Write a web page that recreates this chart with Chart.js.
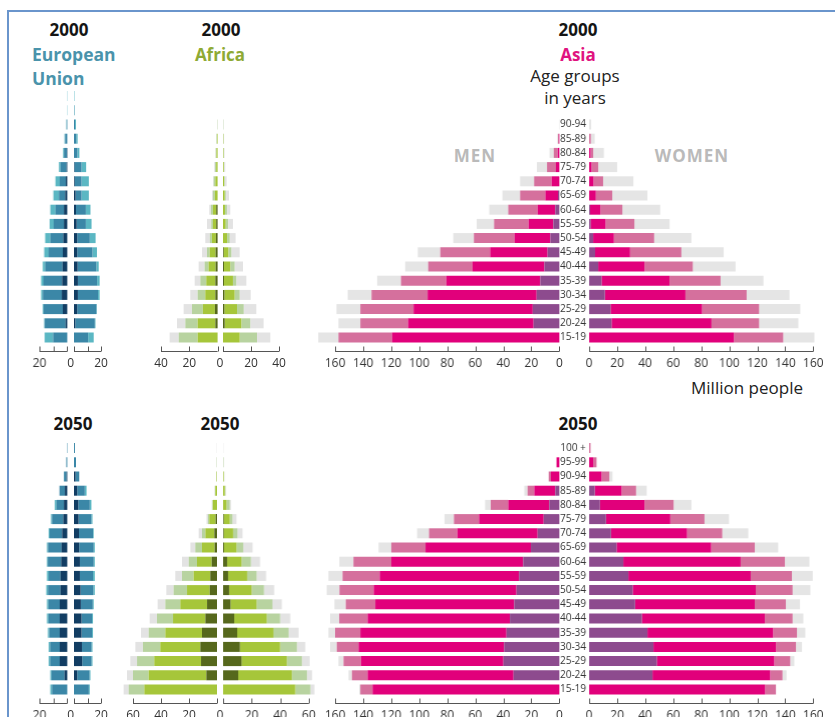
<!DOCTYPE html>
<html><head><meta charset="utf-8">
<script src="https://cdn.jsdelivr.net/npm/chart.js@4.4.1/dist/chart.umd.min.js"></script>
<style>
html,body{margin:0;padding:0;background:#fff;width:835px;height:717px;overflow:hidden;position:relative;font-family:'Open Sans',sans-serif;}
.frame{position:absolute;left:7px;top:10px;width:900px;height:800px;border-top:2px solid #6a95cc;border-left:2px solid #6a95cc;}
.t{position:absolute;white-space:nowrap;line-height:1;transform:translate(-50%,-50%);}
.yr{font-weight:700;font-size:17px;color:#151515;}
.reg{font-weight:700;font-size:17px;}
.lbl{font-size:17px;color:#222;}
.sex{font-weight:700;font-size:17px;color:#bababa;letter-spacing:1px;}
.wrap{position:absolute;}
</style></head><body>
<div class="frame"></div>
<div class="t yr" style="left:69px;top:29px">2000</div>
<div class="reg" style="position:absolute;left:32px;top:42px;line-height:24px;font-size:17.5px;color:#4a93ab">European<br>Union</div>
<div class="t yr" style="left:221px;top:29px">2000</div>
<div class="t reg" style="left:220px;top:54px;color:#8eaa35">Africa</div>
<div class="t yr" style="left:578px;top:29px">2000</div>
<div class="t reg" style="left:578px;top:54px;color:#e0137f">Asia</div>
<div class="t lbl" style="left:575px;top:75px">Age groups</div>
<div class="t lbl" style="left:575px;top:97px">in years</div>
<div class="t sex" style="left:475px;top:155px">MEN</div>
<div class="t sex" style="left:692px;top:155px">WOMEN</div>
<div class="t lbl" style="left:747px;top:387px">Million people</div>
<div class="t yr" style="left:73px;top:423px">2050</div>
<div class="t yr" style="left:220px;top:423px">2050</div>
<div class="t yr" style="left:578px;top:423px">2050</div>
<script>
// ---------- categories ----------
const ageGroups = ['15-19','20-24','25-29','30-34','35-39','40-44','45-49','50-54','55-59','60-64','65-69','70-74','75-79','80-84','85-89','90-94','95-99','100 +'];
const levelNames = ['Tertiary','Secondary','Primary','No education'];

// ---------- European Union (million people) ----------
const eu2000MenTertiary   = [0,1.2,3.2,3.9,3.7,3.4,3.2,2.9,2.4,2.4,1.5,1,0.5,0.3,0,0,0,0];
const eu2000MenSecondary  = [10.2,15.1,13.9,13.7,13.4,12.5,10.2,9.3,7.4,6.1,4.5,4.4,4.4,2.1,1.5,0.5,0,0];
const eu2000MenPrimary    = [6.1,0.3,0.5,1.2,1.7,1.7,3.2,3.7,2.9,3.7,4,3.1,1.1,0.6,0.5,0.2,0.2,0.2];
const eu2000WomenTertiary = [0,1,2.4,2.9,2.9,2.7,2.4,2.4,2,1.5,1.2,0.5,0.3,0,0,0,0,0];
const eu2000WomenSecondary= [10.5,14.4,14.2,14.9,14.2,13.9,11.3,9.3,6.8,7.3,4.4,5.1,5.3,2.5,1.7,0.8,0.2,0];
const eu2000WomenPrimary  = [4.1,0.5,0.4,1.2,1.9,1.7,3.3,4.3,4.2,3.4,5.4,5.4,3.4,1.5,1,0.7,0.3,0.3];

const eu2050MenTertiary   = [0,2,5.4,5.4,5.4,5.4,5.4,4.9,4.9,4.4,4.1,3.7,2.9,2.4,1.7,0.5,0,0];
const eu2050MenSecondary  = [11,9.4,7,7,7.6,8.2,8.2,9.1,8.5,9.7,9.8,9,8.1,5.4,3.9,1.9,0.7,0.3];
const eu2050MenPrimary    = [1.2,0.8,1,1,0.9,1,1,1.1,1.2,0.5,0.7,0.7,0.7,1.2,0,0,0,0];
const eu2050WomenTertiary = [0,2.4,6.1,5.9,5.6,5.6,5.1,4.9,4.4,4.4,3.9,3.7,3.4,3.2,2.4,1.2,0,0];
const eu2050WomenSecondary= [11,9.1,6.9,7.1,7.8,7.8,8.8,9.5,9.7,10.2,10.7,10.4,9.5,8.5,5.6,2.7,1.5,0.7];
const eu2050WomenPrimary  = [0.7,0.7,0.7,0.7,0.7,0.7,0.7,1,1.3,0.8,0.8,0.5,0.8,1.2,1.3,0,0,0];

// ---------- Africa ----------
const af2000MenTertiary   = [0,1.6,1.9,1.6,1.6,1.4,1.4,1.2,1,1,0,0,0,0,0,0,0,0];
const af2000MenSecondary  = [14.1,12.5,8.5,7.1,6.4,5,4.2,2.8,2.3,2.3,1.9,1.6,1,0.8,0.4,0,0,0];
const af2000MenPrimary    = [13.4,8.7,7.7,5.4,4.2,2.8,1.9,1.5,1.2,1.4,1.4,1.2,0.8,0.5,0.4,0.2,0,0];
const af2000MenNone       = [6.4,5.9,5.9,5.2,4,4.2,3.5,3.2,3,1.2,0.7,0.4,0.6,0.3,0.2,0.2,0,0];
const af2000WomenTertiary = [0,1.2,1,1,0.7,0.7,0.5,0,0,0,0,0,0,0,0,0,0,0];
const af2000WomenSecondary= [11.9,11.9,9,7.3,6.4,4.5,3.3,2.9,1.9,1.4,1.2,0.8,0.5,0.3,0.2,0,0,0];
const af2000WomenPrimary  = [12.4,6.4,4.8,3.6,2.4,3.1,2.2,1.9,1.7,1.4,0.8,0.4,0.3,0.3,0.2,0.2,0,0];
const af2000WomenNone     = [9.5,9.5,9,7.9,7.2,6,5.9,4.2,3.5,2.4,2.3,1.4,0.8,0.5,0.4,0.2,0,0];

const af2050MenTertiary   = [0,7.6,11.4,11.9,10.7,8.3,7.1,5.2,4.8,3.8,1.7,1.9,1,0,0,0,0,0];
const af2050MenSecondary  = [51.9,41.2,33.4,28.6,26.2,23.1,19.1,16.2,11.9,10.5,9,6.4,4.5,3,1.2,0.3,0,0];
const af2050MenPrimary    = [11.2,11.2,12.3,12.4,11.9,11.5,10.7,9.6,8.3,5.9,4.8,2.4,1,0.3,0.3,0.2,0.2,0];
const af2050MenNone       = [3.6,4.3,4.8,5.4,5.5,5.2,5.5,5.2,4.8,4.8,3.5,2.4,1,0.5,0.3,0.1,0.2,0.2];
const af2050WomenTertiary = [0,10.6,12.9,11.8,9.9,7.8,5.2,4.2,3.5,2.8,0.7,0.5,0.5,0,0,0,0,0];
const af2050WomenSecondary= [50.6,37.6,31.8,28.2,25.4,22.8,18.3,15.8,13.4,10.1,8.7,6.5,4.2,2.4,1.2,0.4,0,0];
const af2050WomenPrimary  = [10.6,10.6,10.6,11.8,10.6,9.4,11.1,8.7,6.6,6.6,4.7,3.1,1.9,2.3,0.4,0.3,0.3,0];
const af2050WomenNone     = [2.8,3.6,5.4,5.8,7,7.1,6.6,7.1,6.6,6.4,6.6,3.5,2.8,0.8,0.4,0.2,0.2,0.2];

// ---------- Asia ----------
const as2000MenTertiary   = [0,18.4,19,16.2,13.6,10.7,8.4,6.4,4.3,2.9,1,0,0,0,0,0,0,0];
const as2000MenSecondary  = [119.4,89.6,85,77.8,67.1,51.3,41,25.6,17.7,12.6,9,5.5,2.4,1.2,0.3,0,0,0];
const as2000MenPrimary    = [38.2,34,38,40,32.3,31.6,35.6,29,24.6,21,18,12.5,6.4,2.8,0.7,0,0,0];
const as2000MenNone       = [14.4,15.6,17,17,17,16.4,16,14.7,12.4,13.5,12.6,10,7.2,3,0.5,0.3,0,0];
const as2000WomenTertiary = [0,16,15.3,11.2,8.9,6.5,4.3,2.9,1,0.7,0,0,0,0,0,0,0,0];
const as2000WomenSecondary= [103.3,71.3,65.3,57.5,48.5,33,24.9,14.8,10.7,7.3,4.8,3.1,1.7,1,0,0,0,0];
const as2000WomenPrimary  = [35.2,34,40.7,43.7,36.4,34.5,36.6,28.7,20.6,15.7,11.7,6.9,4.8,1.9,1.2,0,0,0];
const as2000WomenNone     = [22.3,28,29.4,30.6,30.6,30.5,30.2,26.6,25.1,27,25.1,21.6,13.5,7.6,2.8,1.4,0,0];

const as2050MenTertiary   = [0,32.7,39.9,39.4,37.7,35.3,32.2,30.6,28.7,25.8,20.3,15.5,11.2,7.2,2.9,0,0,0];
const as2050MenSecondary  = [133.3,104.1,101.7,103.9,104.3,101.5,99.1,101.9,99.5,94.1,75.2,57.3,46.1,29.3,15,6,2,0];
const as2050MenPrimary    = [8.7,11.2,12.4,15.5,18,20.3,21.1,24.4,26.5,27,24.4,20.2,17.9,12.5,4.8,1.6,0,0];
const as2050MenNone       = [0.8,2.4,3.6,4.8,4.8,6.5,8.1,9.1,10.1,10.1,9.1,8.5,6.8,4,2.3,0,0,0];
const as2050WomenTertiary = [0,45.2,48.3,45.9,41.6,37.6,32.8,31.1,28,24.4,19.6,15.6,12,7.7,4,0,0,0];
const as2050WomenSecondary= [125.6,84,83.8,87.4,89.7,87.8,85.4,87.8,87.3,83.7,67.5,54.3,45.9,31.8,19.2,8.9,2.9,0];
const as2050WomenPrimary  = [7.7,8.8,11.4,14.3,17,19.8,22.2,26.3,29.4,31.6,31.1,25.1,24.4,20.8,10.3,5.5,2.4,1];
const as2050WomenNone     = [0,2.9,2.9,4.3,6,7.7,10.1,12.7,14.9,17.5,16.7,18.6,17.5,12.7,7.6,2.3,0,0];

// ---------- tick labels ----------
const euTickLabels = [20];
const af2000TickLabels = [20, 40];
const af2050TickLabels = [20, 40, 60];
const asiaTickLabels = [0, 20, 40, 60, 80, 100, 120, 140, 160];

// ---------- styling ----------
const euColors = ['#123d63', '#3b87a7', '#5bb7c3'];
const afColors = ['#56681c', '#a6c63a', '#b8d3a0', '#e3e3e3'];
const asColors = ['#8d4b8e', '#e1007b', '#d5709d', '#e5e5e5'];
const ROW = 14.2, TICK_PAD = 12, AXIS_OFF = 6, TICK_FONT = 12;
const TOP_ROW_Y = 337, BOTTOM_ROW_Y = 689;

const axisDraw = {
  id: 'axisDraw',
  afterDraw(chart, args, o) {
    const {ctx, chartArea} = chart; const sx = chart.scales.x, sy = chart.scales.y;
    const yA = Math.round(chartArea.bottom + AXIS_OFF) + 0.5;
    ctx.save();
    ctx.strokeStyle = '#555'; ctx.lineWidth = 1;
    ctx.beginPath();
    ctx.moveTo(sx.getPixelForValue(0), yA); ctx.lineTo(sx.getPixelForValue(sx.max), yA);
    sx.ticks.forEach(t => { const px = Math.round(sx.getPixelForValue(t.value)) + 0.5; ctx.moveTo(px, yA); ctx.lineTo(px, yA - 5); });
    ctx.stroke();
    const x0 = sx.getPixelForValue(0);
    if (o.zeroDx != null) {
      ctx.font = TICK_FONT + 'px "Open Sans"'; ctx.fillStyle = '#333'; ctx.textAlign = 'center'; ctx.textBaseline = 'middle';
      ctx.fillText('0', x0 + o.zeroDx, chartArea.bottom + TICK_PAD + TICK_FONT * 0.6);
    }
    if (o.ageCount) {
      ctx.font = '10px "Open Sans"'; ctx.fillStyle = '#333'; ctx.textAlign = 'center'; ctx.textBaseline = 'middle';
      for (let i = 0; i < o.ageCount; i++) ctx.fillText(chart.data.labels[i], x0 + o.ageDx, sy.getPixelForValue(i));
    }
    ctx.restore();
  }
};
Chart.register(axisDraw);

function half(c) {
  const isMen = c.side === 'men';
  const areaW = c.max * c.ppu, areaH = ageGroups.length * ROW;
  const pad = {left: isMen ? 30 : (c.ageCount ? 40 : 14), right: isMen ? 12 : 30, top: 4, bottom: 4};
  const W = Math.round(areaW + pad.left + pad.right), H = Math.round(areaH + pad.top + pad.bottom + TICK_PAD + TICK_FONT * 1.2);
  const wrap = document.createElement('div'); wrap.className = 'wrap'; document.body.appendChild(wrap);
  const cv = document.createElement('canvas'); cv.width = W; cv.height = H; cv.style.width = W + 'px'; cv.style.height = H + 'px';
  wrap.appendChild(cv);
  const chart = new Chart(cv, {
    type: 'bar',
    data: {
      labels: ageGroups,
      datasets: c.series.map((arr, i) => ({
        label: levelNames[i], data: arr, backgroundColor: c.colors[i], borderWidth: 0, inflateAmount: 0,
        barThickness: 10, clip: false, stack: 's'
      }))
    },
    options: {
      indexAxis: 'y', responsive: false, maintainAspectRatio: false, animation: false, events: [],
      layout: {padding: pad},
      plugins: {legend: {display: false}, tooltip: {enabled: false},
        axisDraw: {zeroDx: c.zeroDx, ageCount: c.ageCount || 0, ageDx: -16}},
      scales: {
        x: {type: 'linear', min: 0, max: c.max, reverse: isMen, stacked: true,
            grid: {display: false, drawTicks: false}, border: {display: false},
            ticks: {stepSize: c.step, autoSkip: false, maxRotation: 0, minRotation: 0, padding: TICK_PAD,
                    color: '#333', font: {family: '"Open Sans"', size: TICK_FONT},
                    callback: v => c.tickLabels.includes(v) ? String(v) : ''}},
        y: {type: 'category', reverse: true, stacked: true, display: false}
      }
    }
  });
  const ca = chart.chartArea;
  const dw = areaW - (ca.right - ca.left), dh = areaH - (ca.bottom - ca.top);
  if (Math.abs(dw) > 0.2 || Math.abs(dh) > 0.2) chart.resize(chart.width + dw, chart.height + dh);
  const x0 = chart.scales.x.getPixelForValue(0);
  const y0 = chart.scales.y.getPixelForValue(0);
  wrap.style.left = (c.zeroX - x0) + 'px';
  wrap.style.top = (c.rowY - y0) + 'px';
  return chart;
}

// EU
half({side:'men', max:20, step:10, ppu:1.37, tickLabels:euTickLabels, colors:euColors, zeroX:66.7, rowY:TOP_ROW_Y,
  series:[eu2000MenTertiary, eu2000MenSecondary, eu2000MenPrimary]});
half({side:'women', max:20, step:10, ppu:1.35, tickLabels:euTickLabels, colors:euColors, zeroX:74, rowY:TOP_ROW_Y, zeroDx:-3.3,
  series:[eu2000WomenTertiary, eu2000WomenSecondary, eu2000WomenPrimary]});
half({side:'men', max:20, step:10, ppu:1.37, tickLabels:euTickLabels, colors:euColors, zeroX:66.7, rowY:BOTTOM_ROW_Y,
  series:[eu2050MenTertiary, eu2050MenSecondary, eu2050MenPrimary]});
half({side:'women', max:20, step:10, ppu:1.35, tickLabels:euTickLabels, colors:euColors, zeroX:74, rowY:BOTTOM_ROW_Y, zeroDx:-3.3,
  series:[eu2050WomenTertiary, eu2050WomenSecondary, eu2050WomenPrimary]});
// Africa
half({side:'men', max:40, step:20, ppu:1.415, tickLabels:af2000TickLabels, colors:afColors, zeroX:217.3, rowY:TOP_ROW_Y,
  series:[af2000MenTertiary, af2000MenSecondary, af2000MenPrimary, af2000MenNone]});
half({side:'women', max:40, step:20, ppu:1.4, tickLabels:af2000TickLabels, colors:afColors, zeroX:223.3, rowY:TOP_ROW_Y, zeroDx:-3,
  series:[af2000WomenTertiary, af2000WomenSecondary, af2000WomenPrimary, af2000WomenNone]});
half({side:'men', max:60, step:20, ppu:1.4, tickLabels:af2050TickLabels, colors:afColors, zeroX:216.7, rowY:BOTTOM_ROW_Y,
  series:[af2050MenTertiary, af2050MenSecondary, af2050MenPrimary, af2050MenNone]});
half({side:'women', max:60, step:20, ppu:1.415, tickLabels:af2050TickLabels, colors:afColors, zeroX:223.3, rowY:BOTTOM_ROW_Y, zeroDx:-3,
  series:[af2050WomenTertiary, af2050WomenSecondary, af2050WomenPrimary, af2050WomenNone]});
// Asia
half({side:'men', max:160, step:20, ppu:1.396, tickLabels:asiaTickLabels, colors:asColors, zeroX:558.3, rowY:TOP_ROW_Y,
  series:[as2000MenTertiary, as2000MenSecondary, as2000MenPrimary, as2000MenNone]});
half({side:'women', max:160, step:20, ppu:1.396, tickLabels:asiaTickLabels, colors:asColors, zeroX:589.3, rowY:TOP_ROW_Y, ageCount:16,
  series:[as2000WomenTertiary, as2000WomenSecondary, as2000WomenPrimary, as2000WomenNone]});
half({side:'men', max:160, step:20, ppu:1.396, tickLabels:asiaTickLabels, colors:asColors, zeroX:558.3, rowY:BOTTOM_ROW_Y,
  series:[as2050MenTertiary, as2050MenSecondary, as2050MenPrimary, as2050MenNone]});
half({side:'women', max:160, step:20, ppu:1.396, tickLabels:asiaTickLabels, colors:asColors, zeroX:589.3, rowY:BOTTOM_ROW_Y, ageCount:18,
  series:[as2050WomenTertiary, as2050WomenSecondary, as2050WomenPrimary, as2050WomenNone]});
</script>
</body></html>
